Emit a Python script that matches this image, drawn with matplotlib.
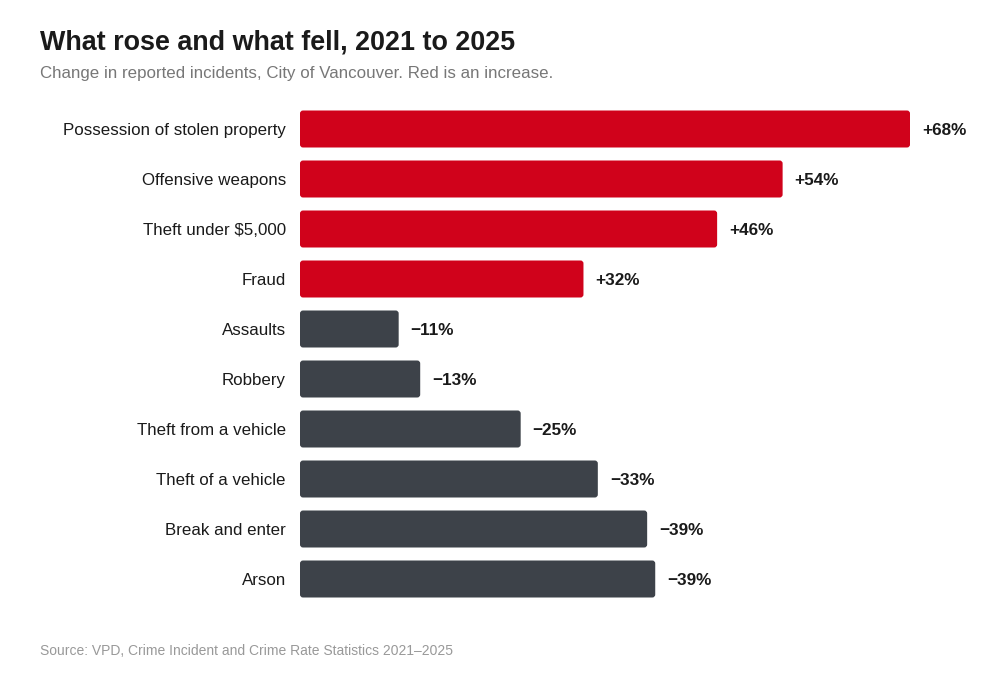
import matplotlib
matplotlib.use("Agg")
import matplotlib.pyplot as plt
from matplotlib.patches import FancyBboxPatch

plt.rcParams['font.family'] = ['Liberation Sans', 'DejaVu Sans']

categories = ["Possession of stolen property", "Offensive weapons", "Theft under $5,000",
              "Fraud", "Assaults", "Robbery", "Theft from a vehicle", "Theft of a vehicle",
              "Break and enter", "Arson"]
changes = [68, 53.8, 46.5, 31.6, -11.0, -13.4, -24.6, -33.2, -38.7, -39.6]
value_labels = ["+68%", "+54%", "+46%", "+32%", "\u221211%", "\u221213%", "\u221225%",
                "\u221233%", "\u221239%", "\u221239%"]

RED = "#d0021b"
DARK = "#3d4249"

fig = plt.figure(figsize=(10, 6.8), dpi=100)
ax = fig.add_axes([0.30, 1 - 604 / 680, 0.61, 500 / 680])
ax.set_xlim(0, 68)
ax.set_ylim(len(categories) - 0.5, -0.5)

bar_h = 0.74
px_x = 68 / 610.0
px_y = 10 / 500.0
r = 3 * px_x
for i, (cat, v, lab) in enumerate(zip(categories, changes, value_labels)):
    w = abs(v)
    col = RED if v > 0 else DARK
    p = FancyBboxPatch((0, i - bar_h / 2), w, bar_h,
                       boxstyle=f"round,pad=0,rounding_size={r}",
                       mutation_aspect=px_y / px_x,
                       facecolor=col, edgecolor="none")
    ax.add_patch(p)
    ax.text(w + 12 * px_x, i, lab, ha="left", va="center_baseline", fontsize=12.3,
            fontweight="bold", color="#1a1a1a", clip_on=False)
    ax.text(-14 * px_x, i, cat, ha="right", va="center_baseline", fontsize=12.2,
            color="#1a1a1a", clip_on=False)

ax.axis("off")

fig.text(0.040, 1 - 50 / 680, "What rose and what fell, 2021 to 2025", fontsize=19.4,
         fontweight="bold", color="#1a1a1a", ha="left", va="baseline")
fig.text(0.040, 1 - 78 / 680, "Change in reported incidents, City of Vancouver. Red is an increase.",
         fontsize=12.2, color="#777777", ha="left", va="baseline")
fig.text(0.040, 1 - 655 / 680, "Source: VPD, Crime Incident and Crime Rate Statistics 2021\u20132025",
         fontsize=10, color="#999999", ha="left", va="baseline")

fig.savefig("out.png", dpi=100, facecolor="white")
